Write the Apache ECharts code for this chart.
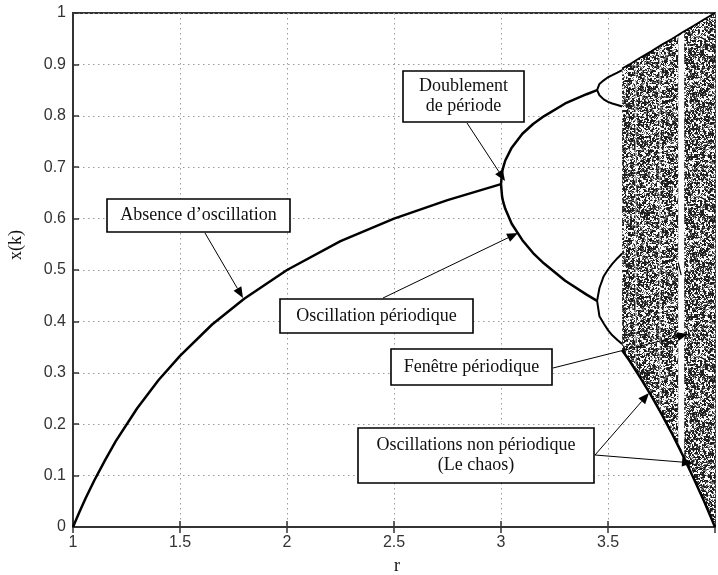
<!DOCTYPE html>
<html><head><meta charset="utf-8">
<script src="https://cdn.jsdelivr.net/npm/echarts@6/dist/echarts.min.js"></script>
<style>html,body{margin:0;padding:0;background:#fff}#c{width:718px;height:575px}</style>
</head><body><div id="c"></div>
<script>
// ---- tick labels ----
const xTickLabels = ['1', '1.5', '2', '2.5', '3', '3.5'];
const yTickLabels = ['0', '0.1', '0.2', '0.3', '0.4', '0.5', '0.6', '0.7', '0.8', '0.9', '1'];

// ---- period-1 branch (absence d'oscillation) ----
const fixedR = [1, 1.03, 1.06, 1.1, 1.15, 1.2, 1.3, 1.4, 1.5, 1.65, 1.8, 2, 2.25, 2.5, 2.75, 3];
const fixedX = [0, 0.029, 0.057, 0.091, 0.130, 0.167, 0.231, 0.286, 0.333, 0.394, 0.444, 0.5, 0.556, 0.6, 0.636, 0.667];

// ---- period-2 branches ----
const period2R = [3, 3.005, 3.01, 3.02, 3.05, 3.1, 3.15, 3.2, 3.3, 3.4, 3.449];
const period2Upper = [0.667, 0.690, 0.699, 0.713, 0.738, 0.765, 0.784, 0.799, 0.824, 0.842, 0.850];
const period2Lower = [0.667, 0.643, 0.633, 0.619, 0.590, 0.558, 0.533, 0.513, 0.479, 0.452, 0.440];

// ---- period-4 branches ----
const period4R = [3.449, 3.46, 3.48, 3.5, 3.52, 3.544, 3.566];
const p4UpperHi = [0.850, 0.862, 0.869, 0.875, 0.879, 0.884, 0.889];
const p4UpperLo = [0.850, 0.840, 0.832, 0.827, 0.824, 0.821, 0.818];
const p4LowerHi = [0.440, 0.465, 0.488, 0.501, 0.512, 0.523, 0.532];
const p4LowerLo = [0.440, 0.410, 0.396, 0.383, 0.373, 0.364, 0.356];

// ---- chaotic region envelope ----
const chaosR  = [3.566, 3.6, 3.65, 3.7, 3.75, 3.8, 3.85, 3.9, 3.95, 4.0];
const chaosHi = [0.892, 0.900, 0.913, 0.925, 0.938, 0.950, 0.963, 0.975, 0.988, 1.0];
const chaosLo = [0.344, 0.324, 0.291, 0.257, 0.220, 0.181, 0.139, 0.095, 0.049, 0.0];

// ---- periodic windows inside chaos ----
const windowStart = [3.627, 3.739, 3.8284];
const windowEnd   = [3.631, 3.745, 3.856];
const windowLo    = [0.300, 0.225, 0.130];
const windowHi    = [0.910, 0.937, 0.965];
const windowAlpha = [0.6, 0.6, 1.0];

// ---- period-3 window branches ----
const period3R = [3.8284, 3.835, 3.842];
const p3a = [0.160, 0.154, 0.149];
const p3b = [0.514, 0.502, 0.490];
const p3c = [0.956, 0.958, 0.960];

const zip = (a, b) => a.map((v, i) => [v, b[i]]);

// deterministic speckle texture (style only)
function hash(i, j) {
  let h = (Math.imul(i | 0, 0x27d4eb2d) ^ Math.imul((j + 0x3c6ef372) | 0, 0x165667b1)) | 0;
  h ^= h >>> 16; h = Math.imul(h, 0x85ebca6b);
  h ^= h >>> 13; h = Math.imul(h, 0xc2b2ae35);
  h ^= h >>> 16;
  return (h >>> 0) / 4294967296;
}
const TS = 160;
const tex = document.createElement('canvas');
tex.width = TS; tex.height = TS;
(function () {
  const ctx = tex.getContext('2d');
  const img = ctx.createImageData(TS, TS);
  for (let y = 0; y < TS; y++) for (let x = 0; x < TS; x++) {
    const v = 0.5 * hash(x >> 1, (y >> 1) + 5000) + 0.5 * hash(x + 11, y + 97);
    const k = (y * TS + x) * 4;
    const c = v < 0.47 ? 30 : (v < 0.58 ? 120 : 250);
    img.data[k] = img.data[k + 1] = img.data[k + 2] = c;
    img.data[k + 3] = 255;
  }
  ctx.putImageData(img, 0, 0);
})();

const chart = echarts.init(document.getElementById('c'), null, {renderer: 'canvas'});

const lineSeries = (data, w) => ({
  type: 'line', data, showSymbol: false, symbol: 'none', smooth: false,
  lineStyle: {color: '#000', width: w || 2.5}, z: 5, silent: true
});

const ticksFont = {fontFamily: 'Liberation Sans, Arial, sans-serif', fontSize: 16, color: '#333'};

// annotation boxes and arrows (pixel layout)
const boxes = [
  {x: 107, y: 199, w: 183, h: 33, lines: ['Absence d\u2019oscillation']},
  {x: 403, y: 71, w: 121, h: 51, lines: ['Doublement', 'de p\u00e9riode']},
  {x: 280, y: 299, w: 193, h: 34, lines: ['Oscillation p\u00e9riodique']},
  {x: 391, y: 349, w: 161, h: 36, lines: ['Fen\u00eatre p\u00e9riodique']},
  {x: 358, y: 428, w: 236, h: 55, lines: ['Oscillations non p\u00e9riodique', '(Le chaos)']}
];
const arrows = [
  [205, 233, 243, 298],
  [467, 123, 505, 181],
  [383, 298, 518, 233],
  [553, 368, 688, 334],
  [595, 455, 649, 393],
  [595, 455, 693, 463]
];
const graphics = [];
boxes.forEach(b => {
  graphics.push({type: 'rect', shape: {x: b.x, y: b.y, width: b.w, height: b.h},
    style: {fill: '#fff', stroke: '#000', lineWidth: 1.6}, z: 100});
  const lh = 20;
  const y0 = b.y + b.h / 2 - (b.lines.length - 1) * lh / 2;
  b.lines.forEach((t, i) => {
    graphics.push({type: 'text', x: b.x + b.w / 2, y: y0 + i * lh,
      style: {text: t, font: '18px "Liberation Serif", "Times New Roman", serif', fill: '#111',
        textAlign: 'center', textVerticalAlign: 'middle'}, z: 101});
  });
});
arrows.forEach(a => {
  const [x1, y1, x2, y2] = a;
  const L = Math.hypot(x2 - x1, y2 - y1), ux = (x2 - x1) / L, uy = (y2 - y1) / L;
  const hl = 11, hw = 4.5;
  const bx = x2 - ux * hl, by = y2 - uy * hl;
  graphics.push({type: 'line', shape: {x1, y1, x2: bx, y2: by}, style: {stroke: '#000', lineWidth: 1}, z: 100});
  graphics.push({type: 'polygon', shape: {points: [[x2, y2], [bx - uy * hw, by + ux * hw], [bx + uy * hw, by - ux * hw]]},
    style: {fill: '#000'}, z: 100});
});
graphics.push({type: 'text', x: 397, y: 566, style: {text: 'r', font: '18px "Liberation Serif", serif', fill: '#111', textAlign: 'center', textVerticalAlign: 'middle'}, z: 100});
graphics.push({type: 'text', x: 16, y: 245, rotation: Math.PI / 2, style: {text: 'x(k)', font: '18px "Liberation Serif", serif', fill: '#111', textAlign: 'center', textVerticalAlign: 'middle'}, z: 100});

const splitStyle = {show: true, lineStyle: {color: '#9a9a9a', width: 1, type: [1.5, 3.5]}};

chart.setOption({
  animation: false,
  backgroundColor: '#fff',
  grid: {left: 73, top: 13, width: 650, height: 514, show: true, borderColor: '#333', borderWidth: 2, backgroundColor: 'transparent'},
  xAxis: [{
    type: 'value', min: 1, max: 4, interval: 0.5,
    axisLine: {show: true, onZero: false, lineStyle: {color: '#333', width: 2}},
    axisTick: {show: true, inside: true, length: 6, lineStyle: {color: '#333', width: 1.5}},
    axisLabel: Object.assign({margin: 8, formatter: v => { const i = Math.round((v - 1) / 0.5); return xTickLabels[i] !== undefined ? xTickLabels[i] : ''; }}, ticksFont),
    splitLine: splitStyle
  }, {
    type: 'value', min: 1, max: 4, interval: 0.5, position: 'top',
    axisLine: {show: false}, axisLabel: {show: false},
    axisTick: {show: true, inside: true, length: 6, lineStyle: {color: '#333', width: 1.5}},
    splitLine: {show: false}
  }],
  yAxis: [{
    type: 'value', min: 0, max: 1, interval: 0.1,
    axisLine: {show: true, onZero: false, lineStyle: {color: '#333', width: 2}},
    axisTick: {show: true, inside: true, length: 6, lineStyle: {color: '#333', width: 1.5}},
    axisLabel: Object.assign({margin: 7, formatter: v => { const i = Math.round(v * 10); return yTickLabels[i]; }}, ticksFont),
    splitLine: splitStyle
  }],
  graphic: graphics,
  series: [
    {
      type: 'custom', data: [[3.8, 0.5]], z: 2, silent: true, clip: true,
      renderItem: (params, api) => {
        const pts = [];
        for (let i = 0; i < chaosR.length; i++) pts.push(api.coord([chaosR[i], chaosHi[i]]));
        for (let i = chaosR.length - 1; i >= 0; i--) pts.push(api.coord([chaosR[i], chaosLo[i]]));
        const children = [{type: 'polygon', shape: {points: pts}, style: {fill: {image: tex, repeat: 'repeat'}}}];
        for (let k = 0; k < windowStart.length; k++) {
          const p1 = api.coord([windowStart[k], windowHi[k]]);
          const p2 = api.coord([windowEnd[k], windowLo[k]]);
          children.push({type: 'rect', shape: {x: p1[0], y: p1[1], width: Math.max(1.2, p2[0] - p1[0]), height: p2[1] - p1[1]},
            style: {fill: 'rgba(255,255,255,' + windowAlpha[k] + ')'}});
        }
        return {type: 'group', children};
      }
    },
    lineSeries(zip(fixedR, fixedX)),
    lineSeries(zip(period2R, period2Upper)),
    lineSeries(zip(period2R, period2Lower)),
    lineSeries(zip(period4R, p4UpperHi), 2),
    lineSeries(zip(period4R, p4UpperLo), 2),
    lineSeries(zip(period4R, p4LowerHi), 2),
    lineSeries(zip(period4R, p4LowerLo), 2),
    lineSeries(zip(chaosR, chaosHi), 1.8),
    lineSeries(zip(chaosR, chaosLo), 2.5),
    lineSeries(zip(period3R, p3a), 1.2),
    lineSeries(zip(period3R, p3b), 1.2),
    lineSeries(zip(period3R, p3c), 1.2)
  ]
});
</script>
</body></html>
